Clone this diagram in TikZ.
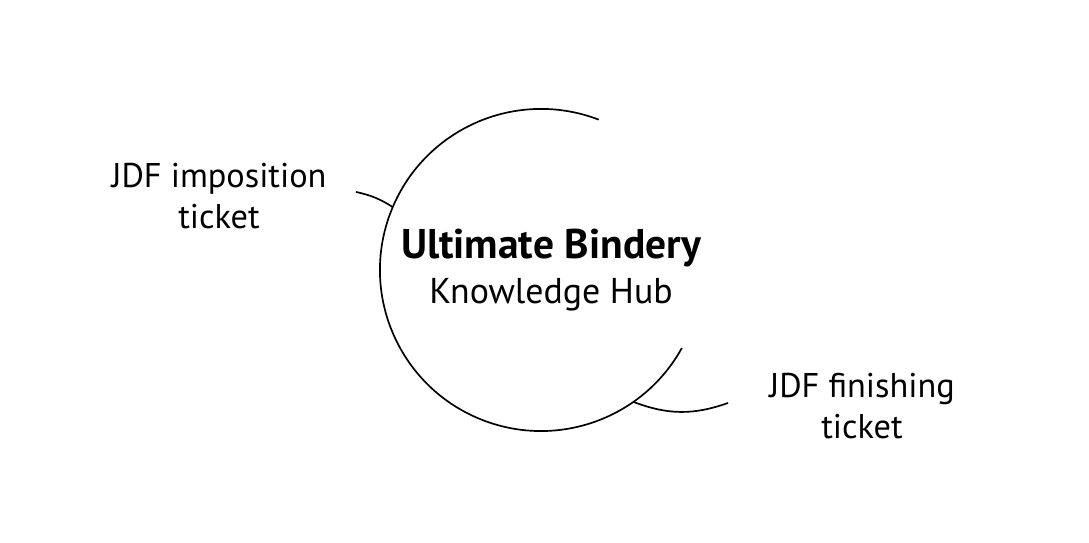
\documentclass[tikz,border=0pt]{standalone}
\usepackage{fontspec}
\setmainfont{PT Sans}
\usepackage{tikz}

\begin{document}
\begin{tikzpicture}[x=0.025cm,y=0.025cm,
  ticket/.style={align=center,inner sep=0pt,font=\fontsize{24.4}{29}\selectfont},
  hubtxt/.style={align=center,inner sep=0pt,font=\fontsize{25.5}{32}\selectfont},
  link/.style={line width=1.2pt}]
  \useasboundingbox (0,0) rectangle (1089,543);
  \node[circle,minimum size=8.05cm,inner sep=0pt,outer sep=0pt] (hub) at (541,273) {};
  \node[hubtxt] (title) at (551,273) {{\fontsize{29.5}{32}\selectfont\bfseries Ultimate Bindery}\\Knowledge Hub};
  \node[ticket] (imp) at (219,347) {JDF imposition\\ticket};
  \node[ticket] (fin) at (862,137) {JDF finishing\\ticket};
  \coordinate (impend) at (356,351);
  \coordinate (finend) at (728,140);
  \draw[link] (hub.69) arc[start angle=69,end angle=331,radius=4.025cm];
  \draw[link] (impend) to[bend left=10] (hub.157);
  \draw[link] (hub.-55) to[bend right=20] (finend);
\end{tikzpicture}
\end{document}
